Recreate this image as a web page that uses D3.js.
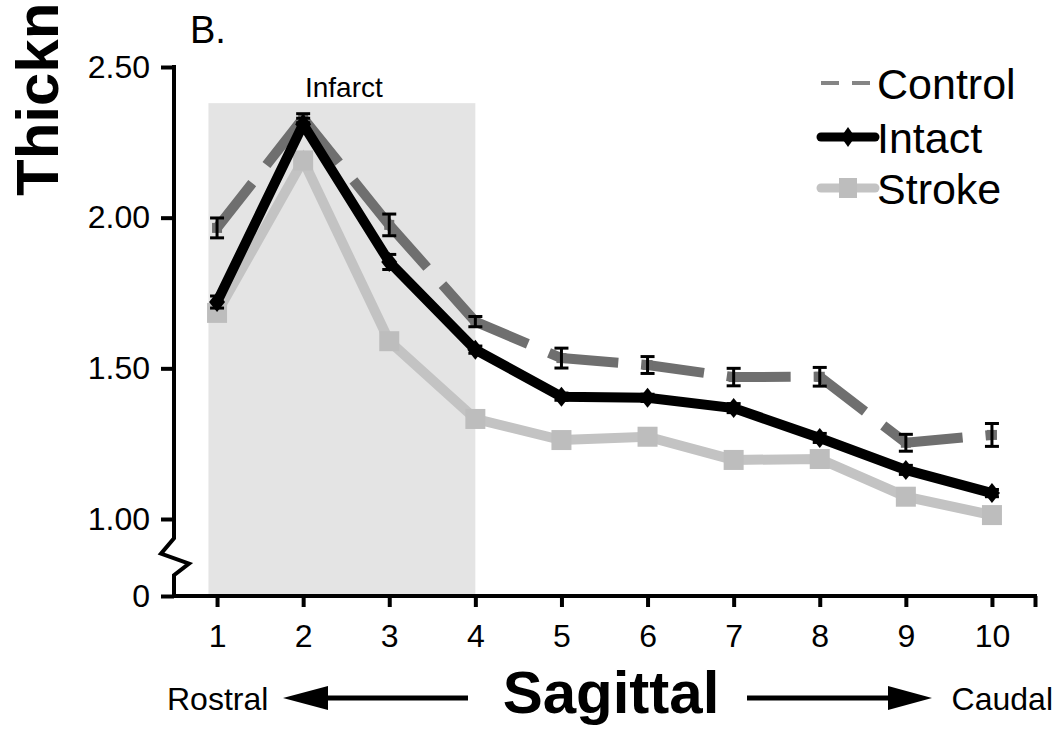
<!DOCTYPE html>
<html>
<head>
<meta charset="utf-8">
<script src="https://cdn.jsdelivr.net/npm/d3@7"></script>
<style>
  html, body { margin: 0; padding: 0; background: #fff; }
  svg { display: block; }
  text { font-family: "Liberation Sans", Arial, sans-serif; fill: #000; }
</style>
</head>
<body>
<svg id="chart" width="1063" height="729"></svg>
<script>
// ---------- data ----------
const sections = [1, 2, 3, 4, 5, 6, 7, 8, 9, 10];
const xTickLabels = ["1", "2", "3", "4", "5", "6", "7", "8", "9", "10"];
const yTicks = [0, 1.0, 1.5, 2.0, 2.5];
const yTickLabels = ["0", "1.00", "1.50", "2.00", "2.50"];

const controlMean = [1.966, 2.33, 1.976, 1.655, 1.534, 1.511, 1.471, 1.472, 1.253, 1.279];
const controlErr  = [0.033, 0.015, 0.036, 0.017, 0.033, 0.028, 0.029, 0.031, 0.028, 0.038];
const intactMean  = [1.72, 2.31, 1.853, 1.562, 1.406, 1.402, 1.368, 1.269, 1.163, 1.086];
const intactErr   = [0.02, 0.02, 0.025, 0.012, 0.012, 0.012, 0.015, 0.015, 0.015, 0.012];
const strokeMean  = [1.684, 2.19, 1.59, 1.332, 1.262, 1.273, 1.196, 1.199, 1.074, 1.013];
const strokeErr   = [0.01, 0.01, 0.025, 0.01, 0.01, 0.01, 0.01, 0.01, 0.01, 0.01];

const seriesNames = ["Control", "Intact", "Stroke"];
const infarctRange = [0.9, 4.0];
const infarctTop = 2.38;

// ---------- scales ----------
const svg = d3.select("#chart");
const x = d3.scaleLinear().domain([0.5, 10.5]).range([174, 1035]);
const y = d3.scaleLinear().domain([0, 1, 2.5]).range([596, 519, 67]);

const colControl = "#6f6f6f";
const colIntact = "#000000";
const colStroke = "#c3c3c3";

// ---------- infarct shading ----------
svg.append("rect")
  .attr("x", x(infarctRange[0]))
  .attr("y", y(infarctTop))
  .attr("width", x(infarctRange[1]) - x(infarctRange[0]))
  .attr("height", y(0) - y(infarctTop))
  .attr("fill", "#e4e4e4");

svg.append("text")
  .attr("x", (x(infarctRange[0]) + x(infarctRange[1])) / 2 + 2)
  .attr("y", y(infarctTop) - 6)
  .attr("text-anchor", "middle")
  .attr("font-size", 28)
  .text("Infarct");

// ---------- axes ----------
const xAxis = d3.axisBottom(x)
  .tickValues(sections.concat([10.5]))
  .tickSize(11)
  .tickPadding(17)
  .tickFormat((d, i) => i < xTickLabels.length ? xTickLabels[i] : "");
const gx = svg.append("g").attr("transform", `translate(0,${y(0)})`).call(xAxis);
gx.select(".domain").attr("stroke", "#000").attr("stroke-width", 4).attr("d", `M${x(0.5) - 2},0H${x(10.5) + 2}`);
gx.selectAll(".tick line").attr("stroke", "#000").attr("stroke-width", 4);
gx.selectAll(".tick text").attr("font-size", 32).attr("font-family", "Liberation Sans, Arial, sans-serif").attr("fill", "#000");

const yAxis = d3.axisLeft(y)
  .tickValues(yTicks)
  .tickSize(13)
  .tickPadding(11)
  .tickFormat((d, i) => yTickLabels[i]);
const gy = svg.append("g").attr("transform", `translate(${x(0.5)},0)`).call(yAxis);
gy.select(".domain").remove();
gy.selectAll(".tick line").attr("stroke", "#000").attr("stroke-width", 4);
gy.selectAll(".tick text").attr("font-size", 32).attr("font-family", "Liberation Sans, Arial, sans-serif").attr("fill", "#000");

// y axis line with break
const ax0 = x(0.5);
const brk = d3.path();
brk.moveTo(ax0, y(2.5) - 2);
brk.lineTo(ax0, y(0.75));
brk.lineTo(ax0 - 13, y(0.55));
brk.lineTo(ax0 + 15, y(0.42));
brk.lineTo(ax0, y(0.27));
brk.lineTo(ax0, y(0) + 2);
svg.append("path").attr("d", brk.toString())
  .attr("fill", "none").attr("stroke", "#000").attr("stroke-width", 4)
  .attr("stroke-linejoin", "miter");

// ---------- series ----------
const lineGen = d3.line().x(d => x(d[0])).y(d => y(d[1]));
function pts(vals) { return sections.map((s, i) => [s, vals[i]]); }

function errorBars(vals, errs) {
  const g = svg.append("g");
  sections.forEach((s, i) => {
    const cx = x(s), y1 = y(vals[i] + errs[i]), y2 = y(vals[i] - errs[i]);
    g.append("line").attr("x1", cx).attr("x2", cx).attr("y1", y1).attr("y2", y2)
      .attr("stroke", "#000").attr("stroke-width", 3);
    [y1, y2].forEach(yy => g.append("line").attr("x1", cx - 7).attr("x2", cx + 7)
      .attr("y1", yy).attr("y2", yy).attr("stroke", "#000").attr("stroke-width", 3));
  });
}

// Stroke
svg.append("path").datum(pts(strokeMean)).attr("d", lineGen)
  .attr("fill", "none").attr("stroke", colStroke).attr("stroke-width", 10)
  .attr("stroke-linejoin", "miter");
errorBars(strokeMean, strokeErr);
svg.append("g").selectAll("rect").data(pts(strokeMean)).join("rect")
  .attr("x", d => x(d[0]) - 10).attr("y", d => y(d[1]) - 10)
  .attr("width", 20).attr("height", 20).attr("fill", "#bdbdbd");

// Control (dash pattern restarts on each segment)
const ctrlPts = pts(controlMean);
const gc = svg.append("g");
for (let i = 0; i < ctrlPts.length - 1; i++) {
  gc.append("path").datum([ctrlPts[i], ctrlPts[i + 1]]).attr("d", lineGen)
    .attr("fill", "none").attr("stroke", colControl).attr("stroke-width", 10)
    .attr("stroke-dasharray", "57,23");
}
gc.selectAll("rect").data(ctrlPts).join("rect")
  .attr("x", d => x(d[0]) - 5).attr("y", d => y(d[1]) - 5)
  .attr("width", 10).attr("height", 10).attr("fill", colControl);
errorBars(controlMean, controlErr);

// Intact
svg.append("path").datum(pts(intactMean)).attr("d", lineGen)
  .attr("fill", "none").attr("stroke", colIntact).attr("stroke-width", 10)
  .attr("stroke-linejoin", "miter");
errorBars(intactMean, intactErr);
svg.append("g").selectAll("path").data(pts(intactMean)).join("path")
  .attr("d", d => {
    const cx = x(d[0]), cy = y(d[1]);
    return `M${cx},${cy - 10}L${cx + 8},${cy}L${cx},${cy + 10}L${cx - 8},${cy}Z`;
  })
  .attr("fill", colIntact);

// ---------- legend ----------
const lg = svg.append("g");
const lgX0 = 821, lgX1 = 875, lgText = 877;
const lgY = [83, 137, 188];
// Control
lg.append("line").attr("x1", lgX0).attr("x2", lgX1).attr("y1", lgY[0]).attr("y2", lgY[0])
  .attr("stroke", "#858585").attr("stroke-width", 4).attr("stroke-dasharray", "18,13");
// Intact
lg.append("line").attr("x1", lgX0).attr("x2", lgX1).attr("y1", lgY[1]).attr("y2", lgY[1])
  .attr("stroke", colIntact).attr("stroke-width", 9).attr("stroke-linecap", "round");
lg.append("path").attr("d", () => {
  const cx = (lgX0 + lgX1) / 2, cy = lgY[1];
  return `M${cx},${cy - 10}L${cx + 7},${cy}L${cx},${cy + 10}L${cx - 7},${cy}Z`;
}).attr("fill", colIntact);
// Stroke
lg.append("line").attr("x1", lgX0).attr("x2", lgX1).attr("y1", lgY[2]).attr("y2", lgY[2])
  .attr("stroke", colStroke).attr("stroke-width", 9).attr("stroke-linecap", "round");
lg.append("rect").attr("x", (lgX0 + lgX1) / 2 - 9).attr("y", lgY[2] - 10)
  .attr("width", 18).attr("height", 20).attr("fill", "#bdbdbd");
seriesNames.forEach((n, i) => {
  lg.append("text").attr("x", lgText).attr("y", lgY[i] + 16)
    .attr("font-size", 43).text(n);
});

// ---------- titles ----------
svg.append("text").attr("x", 190).attr("y", 43).attr("font-size", 38).text("B.");

svg.append("text")
  .attr("transform", "translate(58,196) rotate(-90)")
  .attr("text-anchor", "start")
  .attr("font-size", 60).attr("font-weight", "bold")
  .text("Thickn");

svg.append("text").attr("x", 611).attr("y", 713).attr("text-anchor", "middle")
  .attr("font-size", 60).attr("font-weight", "bold").text("Sagittal");

svg.append("text").attr("x", 167).attr("y", 710)
  .attr("font-family", "DejaVu Sans, Verdana, sans-serif")
  .attr("font-size", 32).text("Rostral");
svg.append("text").attr("x", 1053).attr("y", 710).attr("text-anchor", "end")
  .attr("font-family", "DejaVu Sans, Verdana, sans-serif")
  .attr("font-size", 32).text("Caudal");

// arrows
const arrowY = 698;
svg.append("line").attr("x1", 320).attr("x2", 468).attr("y1", arrowY).attr("y2", arrowY)
  .attr("stroke", "#000").attr("stroke-width", 5);
svg.append("path").attr("d", `M283,${arrowY}L328,${arrowY - 12}L328,${arrowY + 12}Z`).attr("fill", "#000");
svg.append("line").attr("x1", 747).attr("x2", 895).attr("y1", arrowY).attr("y2", arrowY)
  .attr("stroke", "#000").attr("stroke-width", 5);
svg.append("path").attr("d", `M932,${arrowY}L888,${arrowY - 12}L888,${arrowY + 12}Z`).attr("fill", "#000");
</script>
</body>
</html>
